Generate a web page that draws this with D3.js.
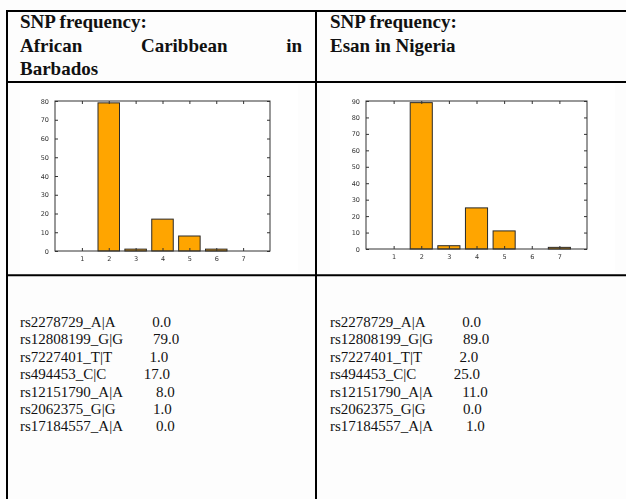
<!DOCTYPE html>
<html>
<head>
<meta charset="utf-8">
<script src="https://cdn.jsdelivr.net/npm/d3@7"></script>
<style>
  html, body { margin: 0; padding: 0; background: #fdfdfd; }
  svg { display: block; }
  .cell-text { font-family: "Liberation Serif", serif; fill: #111; }
  .tick text { font-family: "DejaVu Sans", sans-serif; font-size: 6.5px; fill: #333; }
</style>
</head>
<body>
<svg id="page" width="626" height="499"></svg>
<script>
// SNP genotype frequencies per population
const snpNames = [
  "rs2278729_A|A", "rs12808199_G|G", "rs7227401_T|T", "rs494453_C|C",
  "rs12151790_A|A", "rs2062375_G|G", "rs17184557_A|A"
];
const barbadosValues = [0, 79, 1, 17, 8, 1, 0];
const esanValues = [0, 89, 2, 25, 11, 0, 1];
const xTicks = [1, 2, 3, 4, 5, 6, 7];
const barbadosYTicks = [0, 10, 20, 30, 40, 50, 60, 70, 80];
const esanYTicks = [0, 10, 20, 30, 40, 50, 60, 70, 80, 90];
const headerBarbados = ["SNP frequency:", ["African", "Caribbean", "in"], "Barbados"];
const headerEsan = ["SNP frequency:", "Esan in Nigeria"];

const svg = d3.select("#page");

svg.append("defs").append("filter").attr("id", "soft")
  .append("feGaussianBlur").attr("stdDeviation", 0.35);

// table grid
const grid = svg.append("g").attr("stroke", "#000").attr("stroke-width", 2);
grid.append("line").attr("x1", 6).attr("x2", 626).attr("y1", 11).attr("y2", 11);
grid.append("line").attr("x1", 6).attr("x2", 626).attr("y1", 82).attr("y2", 82);
grid.append("line").attr("x1", 6).attr("x2", 626).attr("y1", 275.3).attr("y2", 275.3);
grid.append("line").attr("x1", 7).attr("x2", 7).attr("y1", 10).attr("y2", 499);
grid.append("line").attr("x1", 316).attr("x2", 316).attr("y1", 10).attr("y2", 499);

// header cells
function header(lines, x0, x1) {
  const g = svg.append("g").attr("class", "cell-text")
    .style("font-size", "19px").style("font-weight", "bold");
  lines.forEach((ln, i) => {
    const y = 28 + i * 23.5;
    if (Array.isArray(ln)) {
      // justified line: spread words across the cell width
      const words = ln.map(w => g.append("text").attr("y", y).text(w));
      const widths = words.map(t => t.node().getComputedTextLength());
      const gap = (x1 - x0 - d3.sum(widths)) / (ln.length - 1);
      let x = x0;
      words.forEach((t, j) => { t.attr("x", x); x += widths[j] + gap; });
    } else {
      g.append("text").attr("x", x0).attr("y", y).text(ln);
    }
  });
}
header(headerBarbados, 20, 302);
header(headerEsan, 330, 612);

// bar chart panel
function barChart(values, yTicks, box, frame) {
  svg.append("rect").attr("x", box[0]).attr("y", box[1])
    .attr("width", box[2] - box[0]).attr("height", box[3] - box[1]).attr("fill", "#fff");
  const g = svg.append("g").attr("filter", "url(#soft)");
  const x = d3.scaleLinear().domain([0, 8]).range([frame.left, frame.right]);
  const y = d3.scaleLinear().domain([0, d3.max(yTicks)]).range([frame.bottom, frame.top]);

  g.selectAll("rect.bar").data(values).join("rect").attr("class", "bar")
    .attr("x", (d, i) => x(xTicks[i] - 0.4))
    .attr("width", x(0.8) - x(0))
    .attr("y", d => y(d))
    .attr("height", d => y(0) - y(d))
    .attr("fill", "#ffa500").attr("stroke", "#2a2a2a").attr("stroke-width", 1);

  const styleAxis = a => {
    a.select(".domain").remove();
    a.selectAll(".tick line").attr("stroke", "#333");
  };
  g.append("g").attr("transform", `translate(${frame.left},0)`)
    .call(d3.axisLeft(y).tickValues(yTicks).tickSize(-3).tickPadding(6)).call(styleAxis);
  g.append("g").attr("transform", `translate(${frame.right},0)`)
    .call(d3.axisRight(y).tickValues(yTicks).tickSize(-3).tickFormat("")).call(styleAxis);
  g.append("g").attr("transform", `translate(0,${frame.bottom})`)
    .call(d3.axisBottom(x).tickValues(xTicks).tickSize(-3).tickPadding(5)).call(styleAxis);
  g.append("g").attr("transform", `translate(0,${frame.top})`)
    .call(d3.axisTop(x).tickValues(xTicks).tickSize(-3).tickFormat("")).call(styleAxis);

  g.append("rect").attr("x", frame.left).attr("y", frame.top)
    .attr("width", frame.right - frame.left).attr("height", frame.bottom - frame.top)
    .attr("fill", "none").attr("stroke", "#333").attr("stroke-width", 1);
}
barChart(barbadosValues, barbadosYTicks, [20, 84, 298, 273],
  { left: 55, right: 270, top: 101, bottom: 251 });
barChart(esanValues, esanYTicks, [330, 84, 615, 273],
  { left: 366, right: 587, top: 101, bottom: 249 });

// value listing, laid out like a printed series
function listing(values, x0) {
  const w = d3.max(snpNames, s => s.length);
  const g = svg.append("g").attr("class", "cell-text").style("font-size", "15px");
  snpNames.forEach((n, i) => {
    const line = n.padEnd(w) + "        " + values[i].toFixed(1).padStart(4);
    g.append("text").attr("x", x0).attr("y", 327 + i * 17.4)
      .style("white-space", "pre").text(line);
  });
}
listing(barbadosValues, 20);
listing(esanValues, 330);
</script>
</body>
</html>
